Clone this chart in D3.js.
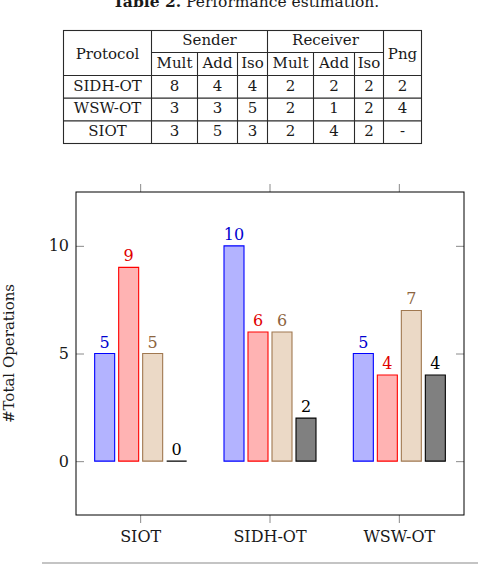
<!DOCTYPE html>
<html>
<head>
<meta charset="utf-8">
<script src="https://cdn.jsdelivr.net/npm/d3@7"></script>
<style>
  body { margin: 0; background: #fff; }
</style>
</head>
<body>
<div class="figure"></div>
<script>
// table data
const tableProtocols = ["SIDH-OT", "WSW-OT", "SIOT"];
const senderMult = [8, 3, 3];
const senderAdd = [4, 3, 5];
const senderIso = [4, 5, 3];
const receiverMult = [2, 2, 2];
const receiverAdd = [2, 1, 4];
const receiverIso = [2, 2, 2];
const tablePng = ["2", "4", "-"];

// chart data
const categories = ["SIOT", "SIDH-OT", "WSW-OT"];
const multOps = [5, 10, 5];
const addOps = [9, 6, 4];
const isoOps = [5, 6, 7];
const pngOps = [0, 2, 4];
const yTicks = [0, 5, 10];

const width = 478, height = 564;
const serif = "'DejaVu Serif', serif";

const svg = d3.select(".figure")
  .append("svg")
  .attr("width", width)
  .attr("height", height);

//caption of the table
const caption = svg.append("text")
  .attr("x", 246)
  .attr("y", 7)
  .attr("text-anchor", "middle")
  .attr("font-size", 15.5)
  .attr("fill", "#1a1a1a")
  .style("font-family", serif);
caption.append("tspan").attr("font-weight", "bold").text("Table 2.");
caption.append("tspan").text(" Performance estimation.");

//the table
const colEdges = [63.5, 151.5, 197.5, 237.5, 267.5, 313.5, 354.5, 383.5, 421.5];
const headTop = 30.5, headMid = 52.5, headBottom = 75.5, tableBottom = 143.5;
const rowScale = d3.scaleBand().domain(tableProtocols).range([headBottom, tableBottom]);
const colMid = i => (colEdges[i] + colEdges[i + 1]) / 2;

const table = svg.append("g").attr("class", "table")
  .attr("stroke", "#2a2a2a").attr("stroke-width", 1.1);

const hLine = (y, xa, xb) => table.append("line").attr("x1", xa).attr("x2", xb).attr("y1", y).attr("y2", y);
const vLine = (x, ya, yb) => table.append("line").attr("x1", x).attr("x2", x).attr("y1", ya).attr("y2", yb);

table.append("rect")
  .attr("x", colEdges[0]).attr("y", headTop)
  .attr("width", colEdges[8] - colEdges[0]).attr("height", tableBottom - headTop)
  .attr("fill", "none");
hLine(headMid, colEdges[1], colEdges[7]);
tableProtocols.forEach(p => hLine(rowScale(p), colEdges[0], colEdges[8]));
[1, 4, 7].forEach(i => vLine(colEdges[i], headTop, tableBottom));
[2, 3, 5, 6].forEach(i => vLine(colEdges[i], headMid, tableBottom));

const tableText = svg.append("g")
  .attr("text-anchor", "middle")
  .attr("font-size", 15)
  .attr("fill", "#1a1a1a")
  .style("font-family", serif);
const cellText = (x, y, t) => tableText.append("text")
  .attr("x", x).attr("y", y)
  .text(t);

cellText(colMid(0), 58.5, "Protocol");
cellText((colEdges[1] + colEdges[4]) / 2, 45, "Sender");
cellText((colEdges[4] + colEdges[7]) / 2, 45, "Receiver");
cellText(colMid(7), 58.5, "Png");
["Mult", "Add", "Iso", "Mult", "Add", "Iso"].forEach((h, i) => cellText(colMid(i + 1), 68, h));

const tableCols = [tableProtocols, senderMult, senderAdd, senderIso, receiverMult, receiverAdd, receiverIso, tablePng];
tableProtocols.forEach((p, r) => {
  const base = rowScale(p) + rowScale.bandwidth() - 7.5;
  tableCols.forEach((col, c) => cellText(colMid(c), base, col[r]));
});

//the bar chart
const plot = {left: 76, right: 464, top: 192, bottom: 515};

const seriesKeys = ["mult", "add", "iso", "png"];
const seriesValues = {mult: multOps, add: addOps, iso: isoOps, png: pngOps};
const fills = {mult: "#b3b3ff", add: "#ffb3b3", iso: "#ebd9c6", png: "#808080"};
const strokes = {mult: "#0000ff", add: "#ff0000", iso: "#a07850", png: "#000000"};
const labelColors = {mult: "#0000d0", add: "#e00000", iso: "#8c6440", png: "#000000"};

const x0 = d3.scaleBand().domain(categories).range([plot.left, plot.right]);
const x1 = d3.scaleBand().domain(seriesKeys).range([-48, 48])
  .paddingInner(1 / 6).paddingOuter(1 / 12);
const y = d3.scaleLinear().domain([-2.5, 12.5]).range([plot.bottom, plot.top]);

//axes
const styleAxis = g => {
  g.select(".domain").remove();
  g.attr("font-family", null);
  g.selectAll(".tick line").attr("stroke", "#8a8a8a");
  g.selectAll(".tick text")
    .attr("font-size", 16)
    .attr("fill", "#1a1a1a")
    .style("font-family", serif);
};

svg.append("g")
  .attr("transform", `translate(${plot.left},0)`)
  .call(d3.axisLeft(y).tickValues(yTicks).tickSize(-8).tickPadding(7).tickFormat(d3.format("d")))
  .call(styleAxis);
svg.append("g")
  .attr("transform", `translate(${plot.right},0)`)
  .call(d3.axisRight(y).tickValues(yTicks).tickSize(-8).tickFormat(""))
  .call(styleAxis);
svg.append("g")
  .attr("transform", `translate(0,${plot.bottom})`)
  .call(d3.axisBottom(x0).tickSize(8).tickPadding(8))
  .call(styleAxis);
svg.append("g")
  .attr("transform", `translate(0,${plot.top})`)
  .call(d3.axisTop(x0).tickSize(8).tickFormat(""))
  .call(styleAxis);

svg.append("rect")
  .attr("x", plot.left).attr("y", plot.top)
  .attr("width", plot.right - plot.left).attr("height", plot.bottom - plot.top)
  .attr("fill", "none").attr("stroke", "#000").attr("stroke-width", 1);

//bars, drawn as paths so that a zero bar still shows its outline
const barPath = (xl, w, yTop, yBase) => `M${xl},${yBase}V${yTop}H${xl + w}V${yBase}Z`;

seriesKeys.forEach(key => {
  const g = svg.append("g").attr("class", "bars-" + key);
  const data = categories.map((c, i) => ({cat: c, value: seriesValues[key][i]}));

  g.selectAll("path")
    .data(data)
    .join("path")
    .attr("d", d => barPath(x0(d.cat) + x0.bandwidth() / 2 + x1(key), x1.bandwidth(), y(d.value), y(0)))
    .attr("fill", fills[key])
    .attr("stroke", strokes[key])
    .attr("stroke-width", 1.1);

  g.selectAll("text")
    .data(data)
    .join("text")
    .attr("x", d => x0(d.cat) + x0.bandwidth() / 2 + x1(key) + x1.bandwidth() / 2)
    .attr("y", d => y(d.value) - 6)
    .attr("text-anchor", "middle")
    .attr("font-size", 16)
    .attr("fill", labelColors[key])
    .style("font-family", serif)
    .text(d => d.value);
});

//y label
svg.append("text")
  .attr("transform", `translate(13.5,${(plot.top + plot.bottom) / 2}) rotate(-90)`)
  .attr("text-anchor", "middle")
  .attr("font-size", 15)
  .attr("fill", "#1a1a1a")
  .style("font-family", serif)
  .text("#Total Operations");

//page rule at the bottom
svg.append("line")
  .attr("x1", 42).attr("x2", width)
  .attr("y1", 563).attr("y2", 563)
  .attr("stroke", "#b0b0b0").attr("stroke-width", 1.5);
</script>
</body>
</html>
